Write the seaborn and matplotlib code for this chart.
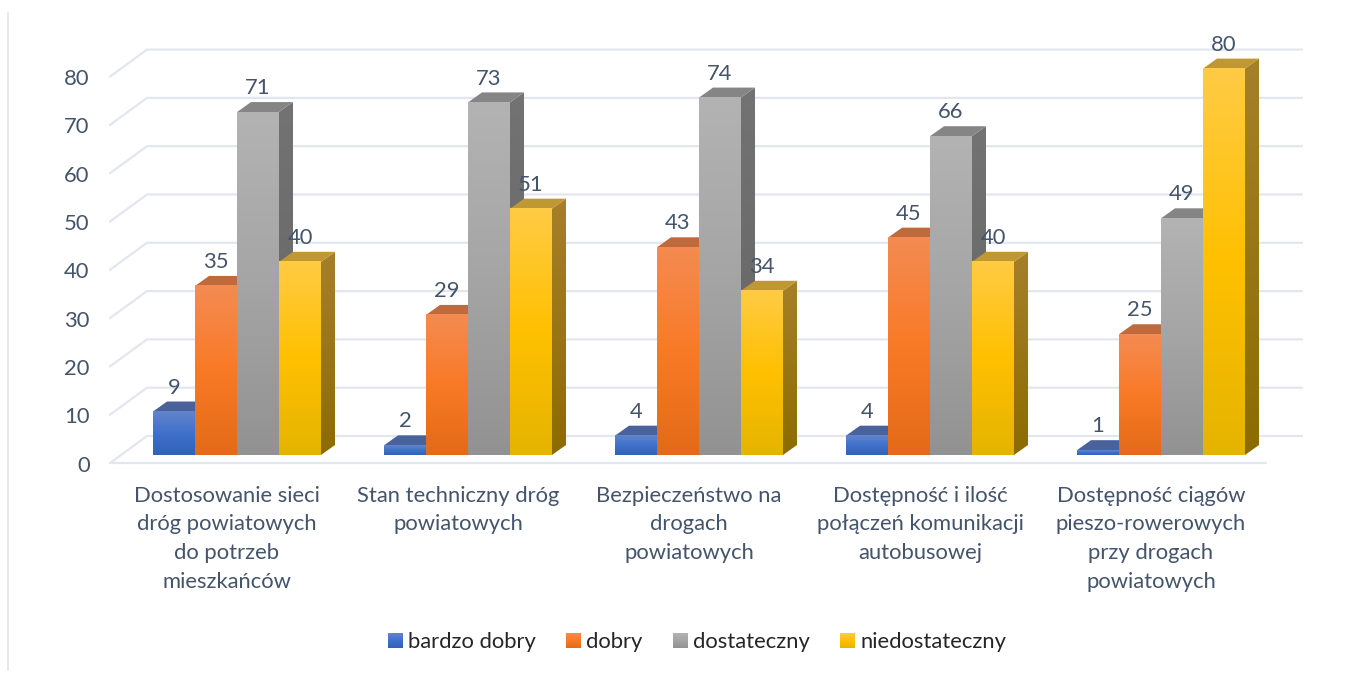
import numpy as np
import pandas as pd
import matplotlib
matplotlib.use("Agg")
import matplotlib.pyplot as plt
from matplotlib.colors import to_rgb
from matplotlib.lines import Line2D
from matplotlib.patches import Polygon
from matplotlib.transforms import ScaledTranslation
import seaborn as sns

categories = [
    "Dostosowanie sieci\ndróg powiatowych\ndo potrzeb\nmieszkańców",
    "Stan techniczny dróg\npowiatowych",
    "Bezpieczeństwo na\ndrogach\npowiatowych",
    "Dostępność i ilość\npołączeń komunikacji\nautobusowej",
    "Dostępność ciągów\npieszo-rowerowych\nprzy drogach\npowiatowych",
]
bardzo_dobry = [9, 2, 4, 4, 1]
dobry = [35, 29, 43, 45, 25]
dostateczny = [71, 73, 74, 66, 49]
niedostateczny = [40, 51, 34, 40, 80]
series_names = ["bardzo dobry", "dobry", "dostateczny", "niedostateczny"]
y_ticks = [0, 10, 20, 30, 40, 50, 60, 70, 80]

TEXT = "#44546A"
GRID = "#E3E6ED"
# top / middle / bottom of the front-face gradient
FRONT = {
    "bardzo dobry": ("#6385CC", "#3F71CC", "#2F62B8"),
    "dobry": ("#F48B52", "#F97A26", "#E46A17"),
    "dostateczny": ("#B3B3B3", "#A5A5A5", "#929292"),
    "niedostateczny": ("#FFCB45", "#FFC000", "#E5B400"),
}
TOP = {"bardzo dobry": "#4A629C", "dobry": "#BE6A3C", "dostateczny": "#858585", "niedostateczny": "#BF9733"}
SIDE = {
    "bardzo dobry": ("#3E5C9A", "#2A4A88"),
    "dobry": ("#B05F30", "#9C5010"),
    "dostateczny": ("#737373", "#636363"),
    "niedostateczny": ("#A6802A", "#8C6C00"),
}

W, H = 1361, 673
PX_X = 231.0      # pixels per category
PX_Y = 4.83       # pixels per unit
X0, Y0 = 121.5, 455.0
YMAX = 92

sns.set_theme(style="white")
plt.rcParams["font.family"] = ["Lato", "DejaVu Sans"]
FS = 15.8

fig = plt.figure(figsize=(W / 100, H / 100), dpi=100)
ax = fig.add_axes([X0 / W, (H - Y0) / H, 5 * PX_X / W, YMAX * PX_Y / H])

df = pd.DataFrame({
    "kategoria": categories * 4,
    "ocena": np.repeat(series_names, len(categories)),
    "wartosc": bardzo_dobry + dobry + dostateczny + niedostateczny,
})
palette = {k: v[1] for k, v in FRONT.items()}
sns.barplot(data=df, x="kategoria", y="wartosc", hue="ocena", hue_order=series_names,
            order=categories, palette=palette, saturation=1, width=168 / PX_X, gap=0,
            errorbar=None, ax=ax)


def px2x(px):
    return (px - X0) / PX_X - 0.5


def gradient(stops):
    rgb = np.array([to_rgb(c) for c in stops])
    t = np.linspace(0, 1, 256)
    pos = np.linspace(0, 1, len(stops))
    return np.stack([np.interp(t, pos, rgb[:, i]) for i in range(3)], axis=1)[:, None, :]


DX = 14 / PX_X
DY = 10 / PX_Y

for s, (name, cont) in enumerate(zip(series_names, ax.containers)):
    for g, bar in enumerate(cont.patches):
        z = 3 + g + s * 0.1
        x0, w, h = bar.get_x(), bar.get_width(), bar.get_height()
        x1 = x0 + w
        # side face
        side = Polygon([(x1, 0), (x1 + DX, DY), (x1 + DX, h + DY), (x1, h)], closed=True,
                       facecolor="none", edgecolor="none", transform=ax.transData, zorder=z)
        ax.add_patch(side)
        im = ax.imshow(gradient(SIDE[name]), extent=(x1, x1 + DX, 0, h + DY), aspect="auto",
                       origin="upper", interpolation="nearest", zorder=z)
        im.set_clip_path(side)
        # top face
        ax.add_patch(Polygon([(x0, h), (x1, h), (x1 + DX, h + DY), (x0 + DX, h + DY)], closed=True,
                             facecolor=TOP[name], edgecolor="none", zorder=z + 0.01))
        # front face
        bar.set_zorder(z + 0.02)
        bar.set_edgecolor("none")
        ax.imshow(gradient(FRONT[name]), extent=(x0, x1, 0, h), aspect="auto", origin="upper",
                  interpolation="nearest", zorder=z + 0.03)
    ax.bar_label(cont, padding=10, fontsize=FS, color=TEXT)
for t in ax.texts:
    t.set_zorder(20)

# wall and floor of the pseudo-3D box
BACK_L, BACK_R, FRONT_L, FRONT_R = px2x(147), px2x(1302), px2x(110), px2x(1266)
BACK_UP, FRONT_DOWN = 19 / PX_Y, 8 / PX_Y
for v in y_ticks:
    ax.plot([FRONT_L, BACK_L, BACK_R], [v - FRONT_DOWN, v + BACK_UP, v + BACK_UP],
            color=GRID, lw=1.6, clip_on=False, zorder=1, solid_joinstyle="round")
ax.plot([FRONT_L, FRONT_R], [-FRONT_DOWN, -FRONT_DOWN], color=GRID, lw=1.6, clip_on=False, zorder=1)

ax.set_xlim(-0.5, 4.5)
ax.set_ylim(0, YMAX)
ax.set_yticks(y_ticks)
ax.set_xlabel("")
ax.set_ylabel("")
sns.despine(ax=ax, left=True, bottom=True)
ax.grid(False)
ax.patch.set_alpha(0)
ax.tick_params(axis="both", length=0, labelsize=FS, labelcolor=TEXT)
ax.tick_params(axis="y", pad=23)
ax.tick_params(axis="x", pad=22)
for lab in ax.get_xticklabels():
    lab.set_linespacing(1.55)
    lab.set_transform(lab.get_transform() + ScaledTranslation(-10 / 100, 0, fig.dpi_scale_trans))
for lab in ax.get_yticklabels():
    lab.set_transform(lab.get_transform() + ScaledTranslation(0, -8.5 / 100, fig.dpi_scale_trans))

sns.move_legend(ax, "center", bbox_to_anchor=(697 / W, (H - 642) / H),
                bbox_transform=fig.transFigure, ncols=4, frameon=False, title=None,
                fontsize=FS, handlelength=0.66, handleheight=0.66, handletextpad=0.27,
                columnspacing=1.37)

# gradient on the legend swatches
fig.canvas.draw()
inv = ax.transData.inverted()
for name, patch in zip(series_names, ax.get_legend().get_patches()):
    patch.set_edgecolor("none")
    bb = patch.get_window_extent()
    (a, b), (c, d) = inv.transform([(bb.x0, bb.y0), (bb.x1, bb.y1)])
    ax.imshow(gradient(FRONT[name]), extent=(a, c, b, d), aspect="auto", origin="upper",
              interpolation="nearest", zorder=30, clip_on=False)
ax.set_xlim(-0.5, 4.5)
ax.set_ylim(0, YMAX)

fig.add_artist(Line2D([7.5 / W, 7.5 / W], [0.005, 1 - 13 / H], color="#E4E4E4", lw=1.2))

fig.savefig("out.png", dpi=100, facecolor="white")
